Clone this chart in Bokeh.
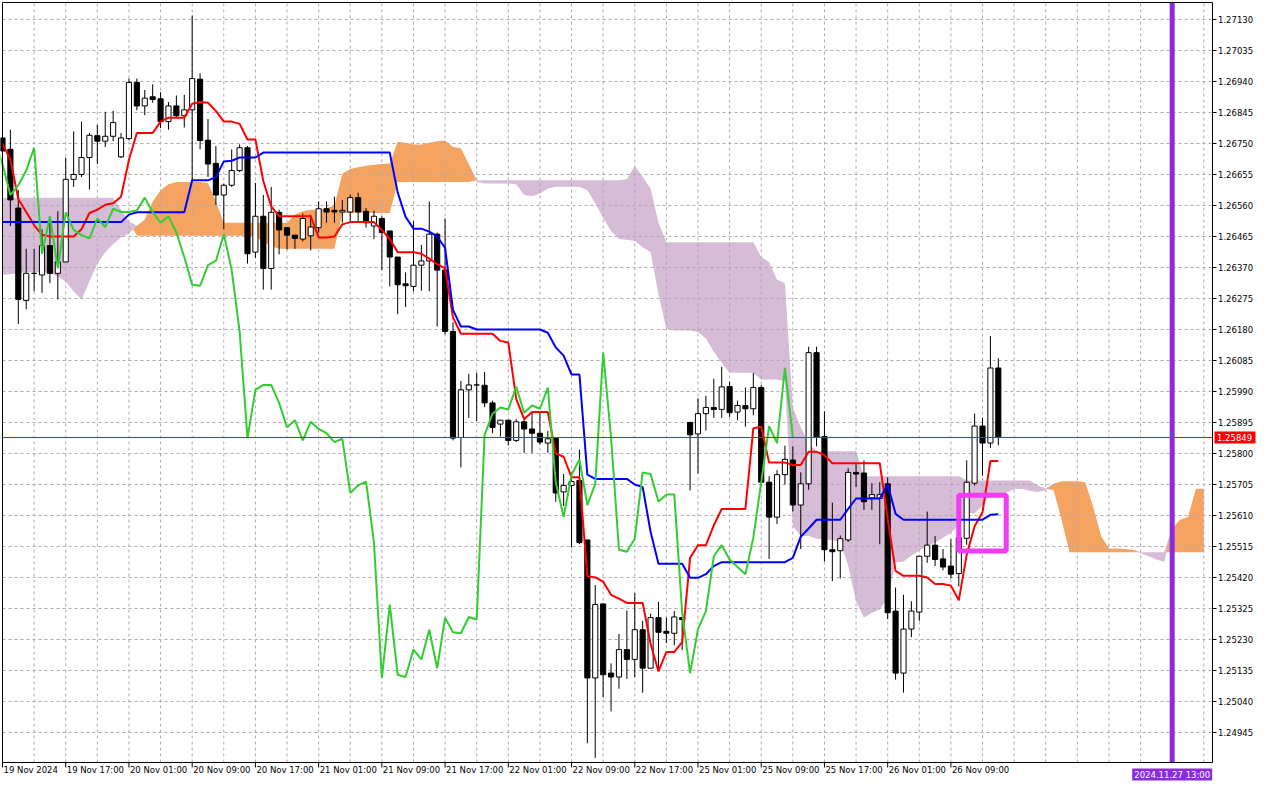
import numpy as np
from bokeh.plotting import figure
from bokeh.models import ColumnDataSource
from bokeh.core.properties import value
from bokeh.embed import file_html
from bokeh.resources import INLINE

# GBPUSD H1 candles, bar 0 = 19 Nov 2024 09:00, last bar = 26 Nov 2024 15:00
opens = [1.26767, 1.26732, 1.26552, 1.26269, 1.26352, 1.26347, 1.26437, 1.26352, 1.26387, 1.26640,
         1.26655, 1.26707, 1.26774, 1.26757, 1.26772, 1.26709, 1.26765, 1.26937, 1.26865, 1.26893,
         1.26887, 1.26817, 1.26865, 1.26835, 1.26853, 1.26947, 1.26760, 1.26689, 1.26592, 1.26622,
         1.26667, 1.26737, 1.26417, 1.26527, 1.26367, 1.26539, 1.26492, 1.26469, 1.26457, 1.26467,
         1.26492, 1.26550, 1.26545, 1.26540, 1.26540, 1.26584, 1.26542, 1.26497, 1.26520, 1.26482,
         1.26402, 1.26320, 1.26312, 1.26377, 1.26390, 1.26472, 1.26362, 1.26174, 1.25849, 1.25995,
         1.26010, 1.26009, 1.25955, 1.25890, 1.25902, 1.25840, 1.25897, 1.25875, 1.25862, 1.25832,
         1.25847, 1.25682, 1.25702, 1.25717, 1.25535, 1.25112, 1.25339, 1.25127, 1.25115, 1.25199,
         1.25169, 1.25260, 1.25142, 1.25297, 1.25255, 1.25249, 1.25297, 1.25895, 1.25860, 1.25922,
         1.25941, 1.25935, 1.26005, 1.25927, 1.25947, 1.25937, 1.26002, 1.25712, 1.25605, 1.25735,
         1.25780, 1.25642, 1.25707, 1.26109, 1.25852, 1.25505, 1.25502, 1.25535, 1.25742, 1.25740,
         1.25664, 1.25662, 1.25707, 1.25317, 1.25127, 1.25262, 1.25314, 1.25485, 1.25519, 1.25477,
         1.25455, 1.25432, 1.25540, 1.25709, 1.25884, 1.25832, 1.26062]
highs = [1.26780, 1.26792, 1.26607, 1.26427, 1.26427, 1.26487, 1.26527, 1.26542, 1.26707, 1.26787,
         1.26817, 1.26782, 1.26807, 1.26847, 1.26850, 1.26782, 1.26949, 1.26949, 1.26914, 1.26931,
         1.26907, 1.26877, 1.26897, 1.26899, 1.27142, 1.26965, 1.26825, 1.26742, 1.26627, 1.26732,
         1.26747, 1.26742, 1.26629, 1.26592, 1.26617, 1.26547, 1.26492, 1.26470, 1.26535, 1.26532,
         1.26572, 1.26572, 1.26587, 1.26577, 1.26594, 1.26599, 1.26552, 1.26544, 1.26527, 1.26482,
         1.26402, 1.26355, 1.26512, 1.26439, 1.26572, 1.26477, 1.26520, 1.26202, 1.26022, 1.26044,
         1.26047, 1.26050, 1.25962, 1.25902, 1.25902, 1.25905, 1.25905, 1.25927, 1.25927, 1.25869,
         1.25847, 1.25737, 1.25732, 1.25812, 1.25535, 1.25397, 1.25339, 1.25157, 1.25247, 1.25319,
         1.25372, 1.25287, 1.25309, 1.25345, 1.25297, 1.25317, 1.25299, 1.25897, 1.25969, 1.25977,
         1.26029, 1.26065, 1.26020, 1.25962, 1.26002, 1.26047, 1.26010, 1.25730, 1.25749, 1.25824,
         1.25822, 1.25742, 1.26127, 1.26127, 1.25929, 1.25649, 1.25549, 1.25755, 1.25767, 1.25779,
         1.25709, 1.25712, 1.25727, 1.25389, 1.25367, 1.25347, 1.25487, 1.25622, 1.25547, 1.25507,
         1.25537, 1.25587, 1.25779, 1.25922, 1.25909, 1.26160, 1.26092]
lows = [1.26715, 1.26497, 1.26197, 1.26242, 1.26297, 1.26292, 1.26322, 1.26272, 1.26387, 1.26617,
        1.26647, 1.26609, 1.26687, 1.26739, 1.26757, 1.26705, 1.26759, 1.26852, 1.26837, 1.26875,
        1.26797, 1.26792, 1.26829, 1.26799, 1.26632, 1.26732, 1.26647, 1.26562, 1.26487, 1.26617,
        1.26662, 1.26382, 1.26399, 1.26302, 1.26302, 1.26410, 1.26425, 1.26427, 1.26450, 1.26422,
        1.26477, 1.26507, 1.26507, 1.26507, 1.26507, 1.26507, 1.26492, 1.26457, 1.26362, 1.26312,
        1.26227, 1.26249, 1.26297, 1.26299, 1.26297, 1.26189, 1.26165, 1.25840, 1.25757, 1.25909,
        1.25899, 1.25942, 1.25862, 1.25852, 1.25825, 1.25835, 1.25802, 1.25802, 1.25827, 1.25802,
        1.25652, 1.25639, 1.25512, 1.25522, 1.24912, 1.24867, 1.25052, 1.25010, 1.25079, 1.25109,
        1.25115, 1.25067, 1.25142, 1.25137, 1.25219, 1.25212, 1.25197, 1.25687, 1.25739, 1.25870,
        1.25909, 1.25909, 1.25912, 1.25902, 1.25882, 1.25917, 1.25700, 1.25477, 1.25584, 1.25705,
        1.25622, 1.25507, 1.25689, 1.25822, 1.25469, 1.25409, 1.25417, 1.25529, 1.25697, 1.25627,
        1.25627, 1.25522, 1.25292, 1.25107, 1.25067, 1.25237, 1.25287, 1.25465, 1.25455, 1.25442,
        1.25417, 1.25392, 1.25520, 1.25702, 1.25732, 1.25817, 1.25825]
closes = [1.26727, 1.26577, 1.26272, 1.26352, 1.26352, 1.26437, 1.26352, 1.26387, 1.26640, 1.26655,
          1.26707, 1.26775, 1.26757, 1.26772, 1.26814, 1.26767, 1.26937, 1.26865, 1.26889, 1.26885,
          1.26817, 1.26865, 1.26835, 1.26853, 1.26949, 1.26759, 1.26687, 1.26592, 1.26622, 1.26667,
          1.26737, 1.26412, 1.26527, 1.26367, 1.26539, 1.26485, 1.26469, 1.26459, 1.26520, 1.26494,
          1.26550, 1.26540, 1.26540, 1.26545, 1.26584, 1.26540, 1.26507, 1.26527, 1.26477, 1.26402,
          1.26317, 1.26314, 1.26377, 1.26390, 1.26472, 1.26362, 1.26174, 1.25847, 1.25995, 1.26010,
          1.26010, 1.25955, 1.25880, 1.25902, 1.25840, 1.25897, 1.25875, 1.25862, 1.25835, 1.25845,
          1.25679, 1.25702, 1.25714, 1.25527, 1.25112, 1.25337, 1.25122, 1.25115, 1.25199, 1.25169,
          1.25260, 1.25142, 1.25297, 1.25252, 1.25249, 1.25299, 1.25291, 1.25857, 1.25922, 1.25941,
          1.25935, 1.26004, 1.25925, 1.25947, 1.25937, 1.26002, 1.25712, 1.25605, 1.25735, 1.25782,
          1.25642, 1.25707, 1.26109, 1.25849, 1.25505, 1.25499, 1.25539, 1.25742, 1.25737, 1.25652,
          1.25674, 1.25674, 1.25312, 1.25127, 1.25262, 1.25317, 1.25485, 1.25519, 1.25475, 1.25452,
          1.25430, 1.25542, 1.25712, 1.25884, 1.25832, 1.26062, 1.25849]

# Ichimoku lines as drawn on the chart, one value per bar
tenkan = [1.26750, 1.26700, 1.26580, 1.26540, 1.26500, 1.26470, 1.26465, 1.26465, 1.26465, 1.26465,
          1.26487, 1.26537, 1.26547, 1.26562, 1.26567, 1.26587, 1.26700, 1.26782, 1.26782, 1.26782,
          1.26817, 1.26829, 1.26829, 1.26829, 1.26872, 1.26877, 1.26875, 1.26850, 1.26817, 1.26817,
          1.26810, 1.26762, 1.26762, 1.26635, 1.26557, 1.26527, 1.26527, 1.26527, 1.26527, 1.26527,
          1.26462, 1.26462, 1.26465, 1.26502, 1.26509, 1.26509, 1.26509, 1.26509, 1.26485, 1.26457,
          1.26417, 1.26417, 1.26417, 1.26412, 1.26397, 1.26380, 1.26367, 1.26217, 1.26167, 1.26167,
          1.26167, 1.26167, 1.26167, 1.26145, 1.26140, 1.25967, 1.25905, 1.25927, 1.25927, 1.25927,
          1.25800, 1.25790, 1.25727, 1.25727, 1.25424, 1.25420, 1.25407, 1.25367, 1.25355, 1.25342,
          1.25342, 1.25342, 1.25217, 1.25132, 1.25192, 1.25192, 1.25222, 1.25480, 1.25519, 1.25519,
          1.25580, 1.25630, 1.25630, 1.25630, 1.25630, 1.25877, 1.25882, 1.25772, 1.25772, 1.25772,
          1.25765, 1.25765, 1.25805, 1.25805, 1.25795, 1.25770, 1.25770, 1.25770, 1.25770, 1.25770,
          1.25770, 1.25770, 1.25600, 1.25440, 1.25425, 1.25425, 1.25425, 1.25420, 1.25400, 1.25400,
          1.25395, 1.25350, 1.25490, 1.25577, 1.25620, 1.25777, 1.25777]
kijun = [1.26509, 1.26509, 1.26509, 1.26509, 1.26509, 1.26509, 1.26509, 1.26509, 1.26509, 1.26509,
         1.26509, 1.26509, 1.26509, 1.26509, 1.26509, 1.26509, 1.26532, 1.26539, 1.26539, 1.26539,
         1.26539, 1.26539, 1.26539, 1.26539, 1.26637, 1.26637, 1.26637, 1.26647, 1.26695, 1.26697,
         1.26707, 1.26707, 1.26707, 1.26722, 1.26722, 1.26722, 1.26722, 1.26722, 1.26722, 1.26722,
         1.26722, 1.26722, 1.26722, 1.26722, 1.26722, 1.26722, 1.26722, 1.26722, 1.26722, 1.26722,
         1.26600, 1.26525, 1.26489, 1.26489, 1.26480, 1.26465, 1.26430, 1.26240, 1.26189, 1.26189,
         1.26180, 1.26180, 1.26180, 1.26180, 1.26180, 1.26180, 1.26180, 1.26180, 1.26180, 1.26170,
         1.26125, 1.26100, 1.26042, 1.26042, 1.25735, 1.25722, 1.25722, 1.25722, 1.25722, 1.25722,
         1.25705, 1.25697, 1.25560, 1.25462, 1.25462, 1.25462, 1.25462, 1.25419, 1.25419, 1.25430,
         1.25455, 1.25467, 1.25467, 1.25467, 1.25467, 1.25467, 1.25467, 1.25467, 1.25467, 1.25467,
         1.25480, 1.25545, 1.25570, 1.25597, 1.25597, 1.25597, 1.25597, 1.25630, 1.25662, 1.25662,
         1.25662, 1.25662, 1.25705, 1.25615, 1.25597, 1.25597, 1.25597, 1.25597, 1.25597, 1.25597,
         1.25597, 1.25597, 1.25597, 1.25597, 1.25597, 1.25612, 1.25614]
# Senkou spans (already shifted 26 bars ahead), bar 0 .. bar 152
span_a = [1.26347, 1.26349, 1.26352, 1.26355, 1.26355, 1.26357, 1.26352, 1.26342, 1.26327, 1.26297,
          1.26272, 1.26327, 1.26382, 1.26417, 1.26442, 1.26462, 1.26475, 1.26497, 1.26517, 1.26572,
          1.26607, 1.26625, 1.26632, 1.26632, 1.26632, 1.26632, 1.26629, 1.26572, 1.26507, 1.26507,
          1.26507, 1.26507, 1.26507, 1.26507, 1.26507, 1.26507, 1.26507, 1.26532, 1.26542, 1.26547,
          1.26547, 1.26552, 1.26560, 1.26657, 1.26672, 1.26677, 1.26682, 1.26685, 1.26687, 1.26689,
          1.26755, 1.26752, 1.26747, 1.26747, 1.26752, 1.26757, 1.26759, 1.26739, 1.26735, 1.26687,
          1.26632, 1.26627, 1.26627, 1.26627, 1.26627, 1.26625, 1.26592, 1.26589, 1.26597, 1.26612,
          1.26617, 1.26617, 1.26617, 1.26617, 1.26607, 1.26567, 1.26522, 1.26482, 1.26457, 1.26455,
          1.26451, 1.26432, 1.26417, 1.26287, 1.26182, 1.26177, 1.26177, 1.26177, 1.26172, 1.26152,
          1.26112, 1.26077, 1.26047, 1.26047, 1.26047, 1.26047, 1.26027, 1.26027, 1.26027, 1.26022,
          1.25577, 1.25547, 1.25547, 1.25539, 1.25537, 1.25535, 1.25527, 1.25457, 1.25347, 1.25297,
          1.25312, 1.25322, 1.25357, 1.25467, 1.25469, 1.25487, 1.25502, 1.25517, 1.25527, 1.25542,
          1.25557, 1.25580, 1.25617, 1.25617, 1.25640, 1.25677, 1.25677, 1.25680, 1.25690, 1.25692,
          1.25685, 1.25682, 1.25687, 1.25707, 1.25715, 1.25715, 1.25715, 1.25712, 1.25637, 1.25547,
          1.25509, 1.25509, 1.25507, 1.25505, 1.25495, 1.25485, 1.25475, 1.25468, 1.25570, 1.25597,
          1.25605, 1.25692, 1.25692]
span_b = [1.26584, 1.26584, 1.26584, 1.26584, 1.26584, 1.26584, 1.26584, 1.26584, 1.26584, 1.26584,
          1.26584, 1.26584, 1.26584, 1.26584, 1.26584, 1.26547, 1.26510, 1.26467, 1.26467, 1.26467,
          1.26467, 1.26467, 1.26467, 1.26467, 1.26467, 1.26467, 1.26467, 1.26467, 1.26467, 1.26467,
          1.26467, 1.26467, 1.26462, 1.26450, 1.26435, 1.26427, 1.26427, 1.26427, 1.26427, 1.26427,
          1.26427, 1.26427, 1.26427, 1.26537, 1.26537, 1.26537, 1.26537, 1.26537, 1.26537, 1.26537,
          1.26632, 1.26632, 1.26632, 1.26632, 1.26632, 1.26632, 1.26632, 1.26632, 1.26632, 1.26632,
          1.26637, 1.26637, 1.26637, 1.26637, 1.26637, 1.26637, 1.26637, 1.26637, 1.26637, 1.26637,
          1.26637, 1.26637, 1.26637, 1.26637, 1.26637, 1.26637, 1.26637, 1.26637, 1.26637, 1.26640,
          1.26682, 1.26647, 1.26612, 1.26507, 1.26447, 1.26447, 1.26447, 1.26447, 1.26447, 1.26447,
          1.26447, 1.26447, 1.26447, 1.26447, 1.26447, 1.26447, 1.26402, 1.26387, 1.26332, 1.26322,
          1.25940, 1.25880, 1.25830, 1.25807, 1.25807, 1.25807, 1.25807, 1.25807, 1.25807, 1.25730,
          1.25730, 1.25730, 1.25730, 1.25730, 1.25730, 1.25730, 1.25730, 1.25730, 1.25730, 1.25730,
          1.25730, 1.25730, 1.25717, 1.25717, 1.25717, 1.25717, 1.25717, 1.25717, 1.25717, 1.25717,
          1.25717, 1.25702, 1.25692, 1.25687, 1.25597, 1.25497, 1.25497, 1.25497, 1.25497, 1.25497,
          1.25497, 1.25497, 1.25497, 1.25497, 1.25497, 1.25497, 1.25497, 1.25497, 1.25497, 1.25497,
          1.25497, 1.25497, 1.25497]

bars = list(range(len(closes)))
cloud_bars = list(range(len(span_a)))
chikou_bars = [b - 26 for b in bars]

time_label_bars = [0, 8, 16, 24, 32, 40, 48, 56, 64, 72, 80, 88, 96, 104, 112, 120]
time_labels = ["19 Nov 2024", "19 Nov 17:00", "20 Nov 01:00", "20 Nov 09:00", "20 Nov 17:00",
               "21 Nov 01:00", "21 Nov 09:00", "21 Nov 17:00", "22 Nov 01:00", "22 Nov 09:00",
               "22 Nov 17:00", "25 Nov 01:00", "25 Nov 09:00", "25 Nov 17:00", "26 Nov 01:00",
               "26 Nov 09:00"]
price_ticks = [1.24945, 1.25040, 1.25135, 1.25230, 1.25325, 1.25420, 1.25515, 1.25610,
               1.25705, 1.25800, 1.25895, 1.25990, 1.26085, 1.26180, 1.26275, 1.26370,
               1.26465, 1.26560, 1.26655, 1.26750, 1.26845, 1.26940, 1.27035, 1.27130]
grid_bars = list(range(0, 156, 4))

last_price = 1.25849
marker_bar = 148
marker_label = "2024.11.27 13:00"
box_bars = (121, 127)
box_prices = (1.25501, 1.25672)

# layout: the frame covers the whole canvas, the terminal-style axes are drawn by hand
W, H = 1264, 784
pad_left, pad_top, axis_right, axis_bottom = 2, 2, 52, 22
bar_first, bar_last = 0, 153.1
price_low, price_high = 1.24853, 1.27182
xpp = (bar_last - bar_first) / (W - pad_left - axis_right)     # bars per pixel
ypp = (price_high - price_low) / (H - pad_top - axis_bottom)   # price per pixel

FONT = value("DejaVu Sans")
FS = "8.5px"

p = figure(width=W, height=H,
           x_range=(bar_first - pad_left * xpp, bar_last + axis_right * xpp),
           y_range=(price_low - axis_bottom * ypp, price_high + pad_top * ypp),
           x_axis_location=None, y_axis_location=None,
           output_backend="svg", toolbar_location=None, min_border=0,
           background_fill_color="white", border_fill_color="white", outline_line_color=None)
p.grid.visible = False

# kumo: orange where span A is above span B, thistle otherwise
a = np.array(span_a)
b = np.array(span_b)
upper = np.maximum(a, b)
p.varea(x=cloud_bars, y1=b, y2=upper, fill_color="#F4A460")
p.varea(x=cloud_bars, y1=a, y2=upper, fill_color="#D6BCD6")

# dashed grid
grid_col = "#b4a6b4"
p.segment(x0=grid_bars, y0=price_low, x1=grid_bars, y1=price_high,
          line_color=grid_col, line_dash="3 3", line_width=1)
p.segment(x0=bar_first, y0=price_ticks, x1=bar_last, y1=price_ticks,
          line_color=grid_col, line_dash="3 3", line_width=1)

# candles
src = ColumnDataSource(dict(
    x=bars, high=highs, low=lows,
    top=[max(o, c) for o, c in zip(opens, closes)],
    bottom=[min(o, c) for o, c in zip(opens, closes)],
    fill=["white" if c >= o else "black" for o, c in zip(opens, closes)],
))
p.segment(x0="x", y0="low", x1="x", y1="high", source=src, line_color="black", line_width=1)
p.vbar(x="x", width=0.65, top="top", bottom="bottom", source=src,
       fill_color="fill", line_color="black", line_width=1)

# tenkan, kijun, chikou
p.line(bars, tenkan, line_color="#FF0000", line_width=2)
p.line(bars, kijun, line_color="#0000FF", line_width=2)
p.line(chikou_bars, closes, line_color="#32CD32", line_width=2)

# current price line, time marker, signal box
p.segment(x0=[bar_first], y0=[last_price], x1=[bar_last], y1=[last_price],
          line_color="#FF0000", line_width=1)
p.segment(x0=[marker_bar], y0=[price_low], x1=[marker_bar], y1=[price_high],
          line_color="#8A2BE2", line_width=5)
p.quad(left=[box_bars[0]], right=[box_bars[1]], bottom=[box_prices[0]], top=[box_prices[1]],
       fill_color=None, line_color="#F23CF2", line_width=5)

# frame
p.quad(left=[bar_first], right=[bar_last], bottom=[price_low], top=[price_high],
       fill_color=None, line_color="black", line_width=1)

# price scale
p.segment(x0=bar_last, y0=price_ticks, x1=bar_last + 4 * xpp, y1=price_ticks,
          line_color="black", line_width=1)
p.text(x=bar_last + 5.5 * xpp, y=price_ticks, text=["%.5f" % t for t in price_ticks],
       text_font=FONT, text_font_size=FS, text_align="left", text_baseline="middle",
       text_color="black")

# time scale
p.segment(x0=time_label_bars, y0=price_low, x1=time_label_bars, y1=price_low - 5 * ypp,
          line_color="black", line_width=1)
p.text(x=[t + 1 * xpp for t in time_label_bars], y=price_low - 2.5 * ypp, text=time_labels,
       text_font=FONT, text_font_size=FS, text_align="left", text_baseline="top",
       text_color="black")

# tags on the scales
p.quad(left=[bar_last + 2 * xpp], right=[bar_last + 43 * xpp],
       bottom=[last_price - 6 * ypp], top=[last_price + 6 * ypp],
       fill_color="#FF0000", line_color=None)
p.text(x=[bar_last + 4.5 * xpp], y=[last_price], text=["%.5f" % last_price],
       text_font=FONT, text_font_size=FS, text_align="left", text_baseline="middle",
       text_color="white")
p.quad(left=[marker_bar - 40 * xpp], right=[marker_bar + 40 * xpp],
       bottom=[price_low - 18 * ypp], top=[price_low - 6 * ypp],
       fill_color="#8A2BE2", line_color=None)
p.text(x=[marker_bar], y=[price_low - 12 * ypp], text=[marker_label],
       text_font=FONT, text_font_size=FS, text_align="center", text_baseline="middle",
       text_color="white")

open("out.html", "w").write(file_html(p, INLINE))
